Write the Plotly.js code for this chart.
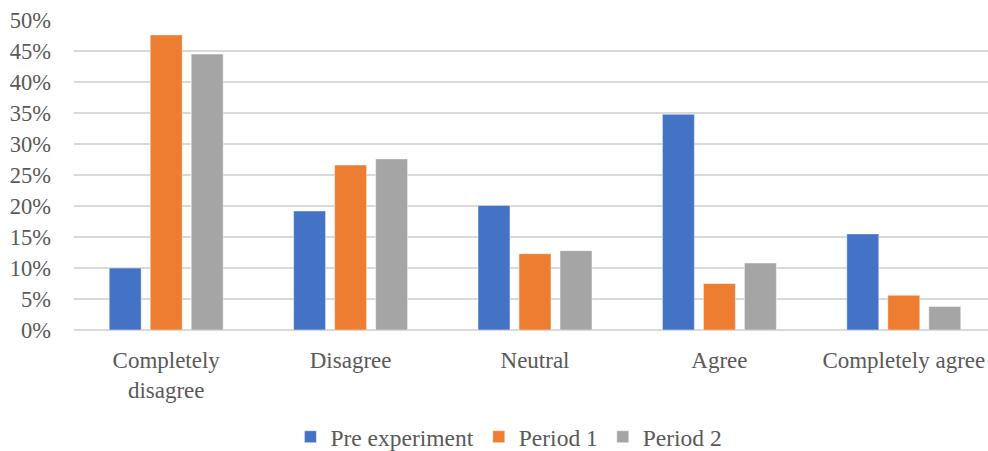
<!DOCTYPE html>
<html>
<head>
<meta charset="utf-8">
<script src="https://cdn.plot.ly/plotly-3.0.1.min.js"></script>
<style>
  html, body { margin: 0; padding: 0; overflow: hidden; background: #fff; }
  #chart { width: 996px; height: 470px; }
  #chart text { font-family: "Liberation Serif", "Times New Roman", serif !important; }
</style>
</head>
<body>
<div id="chart"></div>
<script>
// Survey responses by answer category, share of respondents (fractions)
const categories = ["Completely<br>disagree", "Disagree", "Neutral", "Agree", "Completely agree"];
const preExperiment = [0.100, 0.192, 0.201, 0.348, 0.155];
const period1 = [0.476, 0.266, 0.123, 0.075, 0.056];
const period2 = [0.445, 0.276, 0.128, 0.108, 0.038];
const seriesNames = ["Pre experiment", "Period 1", "Period 2"];
const seriesColors = ["#4472C4", "#ED7D31", "#A5A5A5"];
const yTickVals = [0, 0.05, 0.10, 0.15, 0.20, 0.25, 0.30, 0.35, 0.40, 0.45, 0.50];

const textColor = "#595959";
const fontFamily = "Liberation Serif";

const traces = [preExperiment, period1, period2].map((vals, i) => ({
  type: "bar",
  name: seriesNames[i],
  x: categories,
  y: vals,
  marker: { color: seriesColors[i], line: { width: 0.8, color: "rgba(255,255,255,0.6)" } },
  hoverinfo: "x+y+name"
}));

const layout = {
  width: 996,
  height: 470,
  margin: { l: 74, r: 0, t: 19.5, b: 140 },
  paper_bgcolor: "#ffffff",
  plot_bgcolor: "#ffffff",
  font: { family: fontFamily, size: 23, color: textColor },
  barmode: "group",
  bargap: 0.333,
  bargroupgap: 0.22,
  xaxis: {
    type: "category",
    showgrid: false,
    zeroline: false,
    showline: false,
    ticks: "",
    tickfont: { family: fontFamily, size: 23, color: textColor },
    ticklabelstandoff: 14
  },
  yaxis: {
    range: [0, 0.5],
    tickvals: yTickVals,
    tickformat: ".0%",
    showgrid: true,
    gridcolor: "#d9d9d9",
    gridwidth: 1.5,
    zeroline: true,
    zerolinecolor: "#d9d9d9",
    zerolinewidth: 1.5,
    showline: false,
    ticks: "",
    tickfont: { family: fontFamily, size: 22.5, color: textColor },
    ticklabelstandoff: 22
  },
  showlegend: true,
  legend: {
    orientation: "h",
    x: 0.4717,
    xanchor: "center",
    y: -0.345,
    yanchor: "middle",
    font: { family: fontFamily, size: 23.5, color: textColor },
    itemwidth: 30,
    tracegroupgap: 0,
    bgcolor: "rgba(0,0,0,0)"
  }
};

Plotly.newPlot("chart", traces, layout, { displayModeBar: false, staticPlot: true });
</script>
</body>
</html>
